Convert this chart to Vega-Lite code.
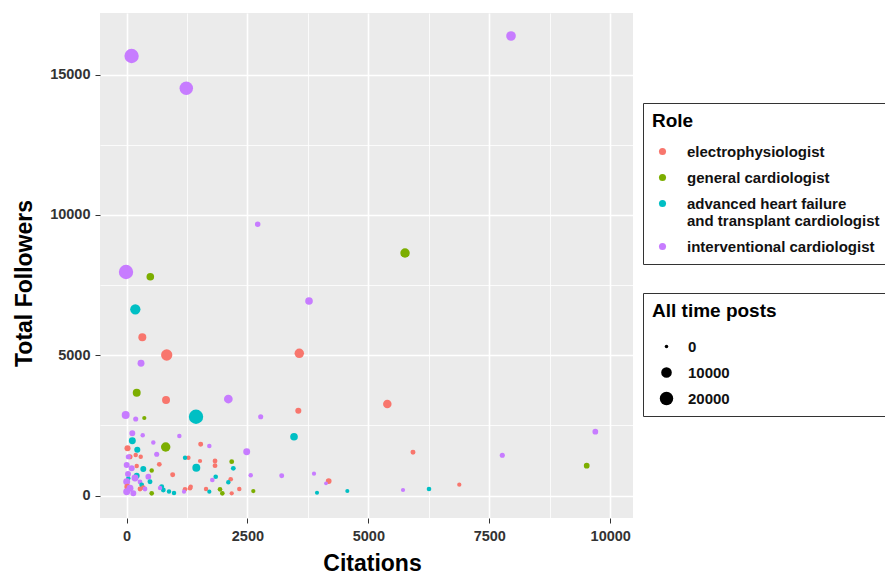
{
  "$schema": "https://vega.github.io/schema/vega-lite/v6.json",
  "width": 533,
  "height": 505,
  "autosize": {"type": "none"},
  "padding": {"left": 100, "top": 13, "right": 252, "bottom": 57},
  "background": "white",
  "config": {
    "font": "Liberation Sans",
    "view": {"fill": "#EBEBEB", "stroke": null}
  },
  "data": {
    "values": [
      {"c": 105, "f": 15668, "r": "interventional cardiologist", "p": 24000},
      {"c": 1236, "f": 14517, "r": "interventional cardiologist", "p": 20000},
      {"c": 7949, "f": 16381, "r": "interventional cardiologist", "p": 7500},
      {"c": 2712, "f": 9668, "r": "interventional cardiologist", "p": 1000},
      {"c": -10, "f": 7968, "r": "interventional cardiologist", "p": 24000},
      {"c": 492, "f": 7800, "r": "general cardiologist", "p": 3500},
      {"c": 5758, "f": 8645, "r": "general cardiologist", "p": 7000},
      {"c": 3773, "f": 6934, "r": "interventional cardiologist", "p": 3500},
      {"c": 182, "f": 6638, "r": "advanced heart failure and transplant cardiologist", "p": 9000},
      {"c": 327, "f": 5640, "r": "electrophysiologist", "p": 4000},
      {"c": 831, "f": 5009, "r": "electrophysiologist", "p": 12000},
      {"c": 3572, "f": 5070, "r": "electrophysiologist", "p": 7000},
      {"c": 300, "f": 4713, "r": "interventional cardiologist", "p": 2500},
      {"c": 211, "f": 3665, "r": "general cardiologist", "p": 4000},
      {"c": 817, "f": 3405, "r": "electrophysiologist", "p": 4000},
      {"c": 2105, "f": 3440, "r": "interventional cardiologist", "p": 5500},
      {"c": -17, "f": 2870, "r": "interventional cardiologist", "p": 4000},
      {"c": 190, "f": 2727, "r": "interventional cardiologist", "p": 700},
      {"c": 368, "f": 2763, "r": "general cardiologist", "p": 200},
      {"c": 1437, "f": 2809, "r": "advanced heart failure and transplant cardiologist", "p": 24000},
      {"c": 2774, "f": 2809, "r": "interventional cardiologist", "p": 700},
      {"c": 3552, "f": 3023, "r": "electrophysiologist", "p": 1500},
      {"c": 5392, "f": 3262, "r": "electrophysiologist", "p": 5000},
      {"c": 3463, "f": 2096, "r": "advanced heart failure and transplant cardiologist", "p": 3500},
      {"c": 5923, "f": 1540, "r": "electrophysiologist", "p": 600},
      {"c": 7769, "f": 1433, "r": "interventional cardiologist", "p": 700},
      {"c": 9692, "f": 2274, "r": "interventional cardiologist", "p": 1200},
      {"c": 9514, "f": 1062, "r": "general cardiologist", "p": 1200},
      {"c": 3209, "f": 706, "r": "interventional cardiologist", "p": 600},
      {"c": 3876, "f": 777, "r": "interventional cardiologist", "p": 200},
      {"c": 4180, "f": 517, "r": "electrophysiologist", "p": 1200},
      {"c": 4124, "f": 435, "r": "interventional cardiologist", "p": 50},
      {"c": 3938, "f": 100, "r": "advanced heart failure and transplant cardiologist", "p": 150},
      {"c": 4565, "f": 160, "r": "advanced heart failure and transplant cardiologist", "p": 150},
      {"c": 5716, "f": 196, "r": "interventional cardiologist", "p": 200},
      {"c": 6254, "f": 232, "r": "advanced heart failure and transplant cardiologist", "p": 400},
      {"c": 6880, "f": 385, "r": "electrophysiologist", "p": 200},
      {"c": 1534, "f": 1825, "r": "electrophysiologist", "p": 600},
      {"c": 1712, "f": 1765, "r": "interventional cardiologist", "p": 300},
      {"c": 1092, "f": 2121, "r": "interventional cardiologist", "p": 300},
      {"c": 2485, "f": 1561, "r": "interventional cardiologist", "p": 2500},
      {"c": 1280, "f": 1348, "r": "electrophysiologist", "p": 300},
      {"c": 1210, "f": 1348, "r": "advanced heart failure and transplant cardiologist", "p": 300},
      {"c": 1520, "f": 1230, "r": "electrophysiologist", "p": 200},
      {"c": 1443, "f": 991, "r": "advanced heart failure and transplant cardiologist", "p": 4000},
      {"c": 1830, "f": 1230, "r": "electrophysiologist", "p": 500},
      {"c": 1830, "f": 1062, "r": "electrophysiologist", "p": 500},
      {"c": 2175, "f": 1205, "r": "general cardiologist", "p": 500},
      {"c": 2208, "f": 970, "r": "advanced heart failure and transplant cardiologist", "p": 500},
      {"c": 2568, "f": 720, "r": "interventional cardiologist", "p": 300},
      {"c": 1844, "f": 670, "r": "advanced heart failure and transplant cardiologist", "p": 400},
      {"c": 1774, "f": 553, "r": "interventional cardiologist", "p": 400},
      {"c": 2154, "f": 578, "r": "electrophysiologist", "p": 400},
      {"c": 2105, "f": 471, "r": "advanced heart failure and transplant cardiologist", "p": 300},
      {"c": 1313, "f": 257, "r": "electrophysiologist", "p": 400},
      {"c": 1209, "f": 221, "r": "electrophysiologist", "p": 400},
      {"c": 1189, "f": 135, "r": "interventional cardiologist", "p": 200},
      {"c": 1644, "f": 232, "r": "electrophysiologist", "p": 300},
      {"c": 1712, "f": 135, "r": "advanced heart failure and transplant cardiologist", "p": 200},
      {"c": 1933, "f": 221, "r": "general cardiologist", "p": 400},
      {"c": 1981, "f": 78, "r": "general cardiologist", "p": 400},
      {"c": 2175, "f": 78, "r": "electrophysiologist", "p": 200},
      {"c": 2332, "f": 232, "r": "electrophysiologist", "p": 300},
      {"c": 2621, "f": 160, "r": "general cardiologist", "p": 200},
      {"c": 120, "f": 2217, "r": "interventional cardiologist", "p": 1400},
      {"c": 335, "f": 2146, "r": "interventional cardiologist", "p": 300},
      {"c": 120, "f": 1954, "r": "advanced heart failure and transplant cardiologist", "p": 2500},
      {"c": 554, "f": 1890, "r": "interventional cardiologist", "p": 300},
      {"c": 810, "f": 1729, "r": "general cardiologist", "p": 7000},
      {"c": 21, "f": 1683, "r": "electrophysiologist", "p": 1500},
      {"c": 223, "f": 1633, "r": "advanced heart failure and transplant cardiologist", "p": 1500},
      {"c": 624, "f": 1469, "r": "interventional cardiologist", "p": 700},
      {"c": 72, "f": 1383, "r": "electrophysiologist", "p": 700},
      {"c": 294, "f": 1383, "r": "electrophysiologist", "p": 300},
      {"c": 190, "f": 1444, "r": "electrophysiologist", "p": 300},
      {"c": 37, "f": 1383, "r": "interventional cardiologist", "p": 700},
      {"c": 4, "f": 1087, "r": "interventional cardiologist", "p": 1400},
      {"c": 678, "f": 1112, "r": "electrophysiologist", "p": 500},
      {"c": 108, "f": 970, "r": "interventional cardiologist", "p": 1400},
      {"c": 347, "f": 945, "r": "advanced heart failure and transplant cardiologist", "p": 1400},
      {"c": 521, "f": 891, "r": "general cardiologist", "p": 300},
      {"c": 211, "f": 1052, "r": "electrophysiologist", "p": 300},
      {"c": 211, "f": 706, "r": "advanced heart failure and transplant cardiologist", "p": 1400},
      {"c": 37, "f": 613, "r": "advanced heart failure and transplant cardiologist", "p": 300},
      {"c": 955, "f": 742, "r": "electrophysiologist", "p": 600},
      {"c": 451, "f": 670, "r": "interventional cardiologist", "p": 1200},
      {"c": 31, "f": 766, "r": "interventional cardiologist", "p": 1400},
      {"c": 176, "f": 624, "r": "interventional cardiologist", "p": 2500},
      {"c": 4, "f": 492, "r": "interventional cardiologist", "p": 2500},
      {"c": 486, "f": 492, "r": "advanced heart failure and transplant cardiologist", "p": 600},
      {"c": 279, "f": 481, "r": "interventional cardiologist", "p": 500},
      {"c": 314, "f": 374, "r": "advanced heart failure and transplant cardiologist", "p": 500},
      {"c": 17, "f": 314, "r": "electrophysiologist", "p": 1400},
      {"c": 72, "f": 257, "r": "interventional cardiologist", "p": 2500},
      {"c": 728, "f": 314, "r": "advanced heart failure and transplant cardiologist", "p": 600},
      {"c": 347, "f": 278, "r": "electrophysiologist", "p": 500},
      {"c": 761, "f": 196, "r": "advanced heart failure and transplant cardiologist", "p": 500},
      {"c": 521, "f": 78, "r": "general cardiologist", "p": 400},
      {"c": 879, "f": 143, "r": "advanced heart failure and transplant cardiologist", "p": 300},
      {"c": 982, "f": 89, "r": "advanced heart failure and transplant cardiologist", "p": 300},
      {"c": 693, "f": 267, "r": "interventional cardiologist", "p": 300},
      {"c": 1327, "f": 314, "r": "electrophysiologist", "p": 300},
      {"c": 279, "f": 232, "r": "electrophysiologist", "p": 500},
      {"c": 382, "f": 232, "r": "interventional cardiologist", "p": 500},
      {"c": 4, "f": 135, "r": "interventional cardiologist", "p": 2500},
      {"c": 141, "f": 78, "r": "interventional cardiologist", "p": 1400}
    ]
  },
  "mark": {"type": "circle", "opacity": 1, "strokeWidth": 0},
  "encoding": {
    "x": {
      "field": "c",
      "type": "quantitative",
      "title": "Citations",
      "scale": {"domain": [-548, 10471], "nice": false, "zero": false},
      "axis": {
        "values": [0, 1250, 2500, 3750, 5000, 6250, 7500, 8750, 10000],
        "format": "d",
        "labelExpr": "datum.value % 2500 === 0 ? datum.label : ''",
        "domain": false,
        "grid": true,
        "gridColor": "white",
        "gridOpacity": 1,
        "gridWidth": {"condition": {"test": "datum.value % 2500 === 0", "value": 1.6}, "value": 0.8},
        "tickColor": "#333333",
        "tickSize": 5,
        "tickWidth": 1,
        "tickOpacity": {"condition": {"test": "datum.value % 2500 === 0", "value": 1}, "value": 0},
        "labelFont": "Liberation Sans",
        "labelFontSize": 14.5,
        "labelFontWeight": "bold",
        "labelColor": "#333333",
        "labelPadding": 6,
        "labelFlush": false,
        "labelOverlap": false,
        "titleFont": "Liberation Sans",
        "titleFontSize": 23,
        "titleFontWeight": "bold",
        "titleColor": "#000000",
        "titleX": 272,
        "titleY": 52,
        "titleAlign": "center",
        "titleBaseline": "alphabetic"
      }
    },
    "y": {
      "field": "f",
      "type": "quantitative",
      "title": "Total Followers",
      "scale": {"domain": [-802, 17201], "nice": false, "zero": false},
      "axis": {
        "values": [0, 2500, 5000, 7500, 10000, 12500, 15000],
        "format": "d",
        "labelExpr": "datum.value % 5000 === 0 ? datum.label : ''",
        "domain": false,
        "grid": true,
        "gridColor": "white",
        "gridOpacity": 1,
        "gridWidth": {"condition": {"test": "datum.value % 5000 === 0", "value": 1.6}, "value": 0.8},
        "tickColor": "#333333",
        "tickSize": 5,
        "tickWidth": 1,
        "tickOpacity": {"condition": {"test": "datum.value % 5000 === 0", "value": 1}, "value": 0},
        "labelFont": "Liberation Sans",
        "labelFontSize": 14.5,
        "labelFontWeight": "bold",
        "labelColor": "#333333",
        "labelPadding": 5,
        "labelFlush": false,
        "labelOverlap": false,
        "titleFont": "Liberation Sans",
        "titleFontSize": 23,
        "titleFontWeight": "bold",
        "titleColor": "#000000",
        "titleAngle": -90,
        "titleX": -69,
        "titleY": 270,
        "titleAlign": "center",
        "titleBaseline": "alphabetic"
      }
    },
    "color": {
      "field": "r",
      "type": "nominal",
      "title": "Role",
      "scale": {
        "domain": ["electrophysiologist", "general cardiologist", "advanced heart failure and transplant cardiologist", "interventional cardiologist"],
        "range": ["#F8766D", "#7CAE00", "#00BFC4", "#C77CFF"]
      },
      "legend": {
        "orient": "none",
        "legendX": 543,
        "legendY": 90,
        "padding": 9,
        "strokeColor": "#333333",
        "fillColor": "white",
        "symbolType": "circle",
        "symbolSize": 50,
        "symbolOffset": 3,
        "symbolStrokeWidth": 0,
        "labelOffset": 17,
        "rowPadding": 10,
        "titlePadding": 13,
        "titleFont": "Liberation Sans",
        "titleFontSize": 19,
        "titleFontWeight": "bold",
        "titleColor": "#000000",
        "labelFont": "Liberation Sans",
        "labelFontSize": 15,
        "labelFontWeight": "bold",
        "labelColor": "#111111",
        "labelLimit": 400,
        "labelExpr": "datum.label === 'advanced heart failure and transplant cardiologist' ? ['advanced heart failure', 'and transplant cardiologist'] : datum.label",
        "encode": {"labels": {"update": {"lineHeight": {"value": 17}}}}
      }
    },
    "size": {
      "field": "p",
      "type": "quantitative",
      "title": "All time posts\u00a0\u00a0\u00a0\u00a0\u00a0\u00a0\u00a0\u00a0\u00a0\u00a0\u00a0\u00a0\u00a0\u00a0\u00a0\u00a0\u00a0\u00a0\u00a0\u200b",
      "scale": {"type": "pow", "exponent": 0.75, "domain": [0, 25000], "range": [12.6, 212]},
      "legend": {
        "orient": "none",
        "legendX": 543,
        "legendY": 280,
        "padding": 9,
        "strokeColor": "#333333",
        "fillColor": "white",
        "values": [0, 10000, 20000],
        "format": "d",
        "symbolType": "circle",
        "symbolFillColor": "#000000",
        "symbolStrokeWidth": 0,
        "symbolOpacity": 1,
        "symbolOffset": 7,
        "labelOffset": 14,
        "rowPadding": 10,
        "titlePadding": 18,
        "titleFont": "Liberation Sans",
        "titleFontSize": 19,
        "titleFontWeight": "bold",
        "titleColor": "#000000",
        "titleLimit": 400,
        "labelFont": "Liberation Sans",
        "labelFontSize": 15,
        "labelFontWeight": "bold",
        "labelColor": "#111111"
      }
    }
  }
}
